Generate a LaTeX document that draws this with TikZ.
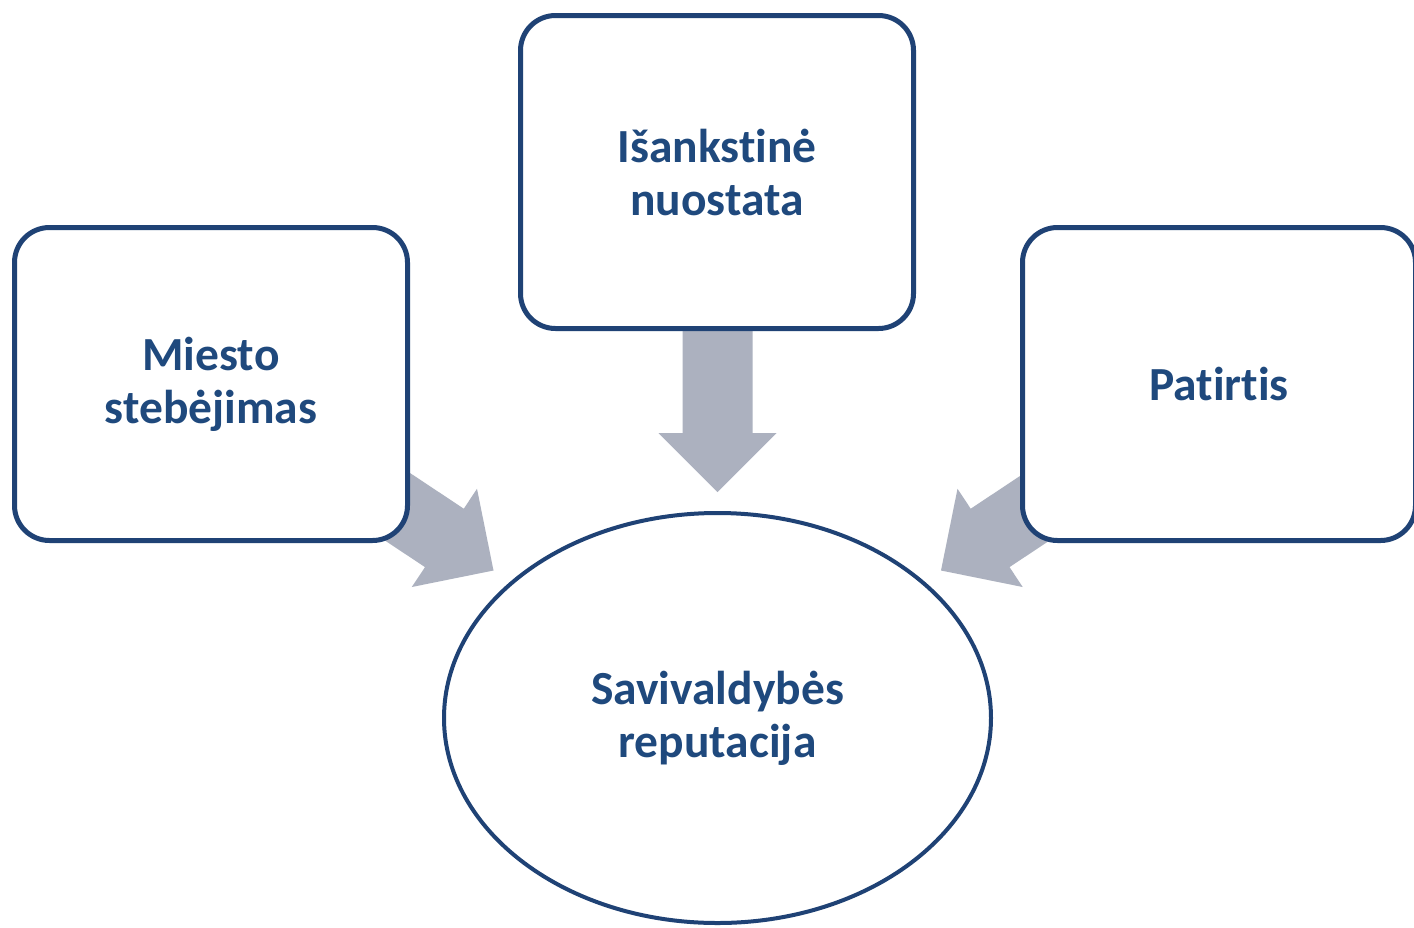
\documentclass[tikz,border=0pt]{standalone}
\usepackage{fontspec}
\setmainfont{Carlito}[Ligatures=NoCommon]
\usetikzlibrary{shapes.geometric}
\definecolor{txtblue}{HTML}{1F497D}
\definecolor{edgeblue}{HTML}{1F4275}
\definecolor{arrowgrey}{HTML}{ACB1BF}
\begin{document}
\begin{tikzpicture}[x=1pt,y=-1pt,
  boxnode/.style={draw=edgeblue, line width=5pt, fill=white, rounded corners=35pt,
    minimum width=393pt, minimum height=313pt, inner sep=0pt, align=center,
    text=txtblue, font=\bfseries\fontsize{47.5}{53}\selectfont},
  ovalnode/.style={draw=edgeblue, line width=4pt, fill=white, ellipse,
    minimum width=547pt, minimum height=410pt, inner sep=0pt, align=center,
    text=txtblue, font=\bfseries\fontsize{47.5}{53}\selectfont},
  fatarrow/.style={fill=arrowgrey, draw=none}]
\useasboundingbox (0,0) rectangle (1414,927);
\fill[white] (0,0) rectangle (1414,927);
% arrows (drawn first, boxes cover their tails)
\coordinate (la1) at (378.8,452.3);
\coordinate (la2) at (463.8,508.7);
\coordinate (la3) at (477.0,488.8);
\coordinate (la4) at (493.5,570.5);
\coordinate (la5) at (411.8,587.0);
\coordinate (la6) at (425.0,567.1);
\coordinate (la7) at (340.0,510.7);
\fill[fatarrow] (la1) -- (la2) -- (la3) -- (la4) -- (la5) -- (la6) -- (la7) -- cycle;
\coordinate (ra1) at (1055.7,452.3);
\coordinate (ra2) at (970.7,508.7);
\coordinate (ra3) at (957.5,488.8);
\coordinate (ra4) at (941.0,570.5);
\coordinate (ra5) at (1022.7,587.0);
\coordinate (ra6) at (1009.5,567.1);
\coordinate (ra7) at (1094.5,510.7);
\fill[fatarrow] (ra1) -- (ra2) -- (ra3) -- (ra4) -- (ra5) -- (ra6) -- (ra7) -- cycle;
\coordinate (ta1) at (682.5,300);
\coordinate (ta2) at (682.5,433);
\coordinate (ta3) at (658.5,433);
\coordinate (ta4) at (717.5,492);
\coordinate (ta5) at (776.5,433);
\coordinate (ta6) at (752.5,433);
\coordinate (ta7) at (752.5,300);
\fill[fatarrow] (ta1) -- (ta2) -- (ta3) -- (ta4) -- (ta5) -- (ta6) -- (ta7) -- cycle;
% nodes
\node[boxnode] (miesto) at (211,384) {Miesto\\stebėjimas};
\node[boxnode] (isank) at (717,172) {Išankstinė\\nuostata};
\node[boxnode] (patirtis) at (1219,384) {Patirtis};
\node[ovalnode] (rep) at (717.5,718) {Savivaldybės\\reputacija};
\end{tikzpicture}
\end{document}
